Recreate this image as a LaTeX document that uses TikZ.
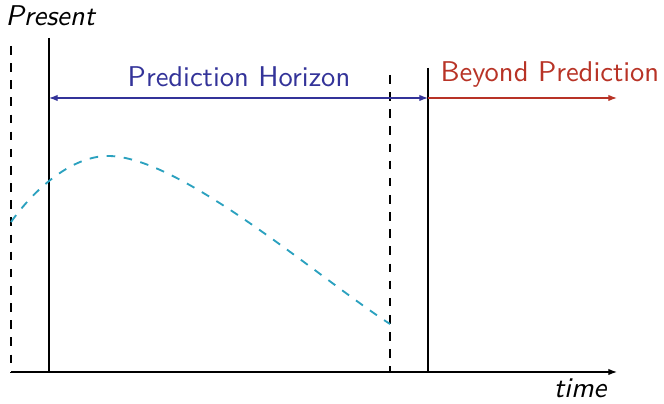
\documentclass[tikz,border=0pt]{standalone}
\usetikzlibrary{arrows.meta}
\definecolor{horblue}{rgb}{0.2,0.2,0.6}
\definecolor{beyred}{rgb}{0.72,0.2,0.15}
\definecolor{predcyan}{rgb}{0.17,0.63,0.75}
\begin{document}
\begin{tikzpicture}[x=0.35pt,y=-0.35pt,
  lbl/.style={inner sep=0pt,font=\sffamily},
  ilbl/.style={inner sep=0pt,font=\sffamily\itshape},
  vline/.style={line width=0.38pt},
  tip/.style={-{Latex[length=3pt,width=2.2pt]}},
  dtip/.style={{Latex[length=3pt,width=2.2pt]}-{Latex[length=3pt,width=2.2pt]}}]
\useasboundingbox (0,0) rectangle (664,404);
% coordinates
\coordinate (o) at (11,372);
\coordinate (axend) at (617,372);
\coordinate (d1t) at (11,46);
\coordinate (s1t) at (49,38);
\coordinate (s1b) at (49,372);
\coordinate (d2t) at (390,75);
\coordinate (d2b) at (390,372);
\coordinate (s2t) at (428,68);
\coordinate (s2b) at (428,372);
\coordinate (hl) at (49,98);
\coordinate (hr) at (428,98);
\coordinate (br) at (617,98);
\coordinate (cs) at (11,222);
\coordinate (cp) at (108,156);
\coordinate (ce) at (390,324);
% lines
\draw[vline,dashed] (d1t) -- (o);
\draw[vline] (s1t) -- (s1b);
\draw[vline,dashed] (d2t) -- (d2b);
\draw[vline] (s2t) -- (s2b);
\draw[vline,tip] (o) -- (axend);
\draw[horblue,vline,dtip] (hl) -- (hr);
\draw[beyred,vline,tip] (hr) -- (br);
\draw[predcyan,line width=0.65pt,dashed] (cs) .. controls (36,187) and (73,156) .. (cp)
  .. controls (180,156) and (320,279) .. (ce);
% labels
\node[ilbl,anchor=base west] (present) at (5,26) {Present};
\node[ilbl,anchor=base east] (time) at (607,398) {time};
\node[lbl,anchor=base,text=horblue] (ph) at (239,87) {Prediction Horizon};
\node[lbl,anchor=base west,text=beyred] (bp) at (440,82) {Beyond Prediction};
\end{tikzpicture}
\end{document}
